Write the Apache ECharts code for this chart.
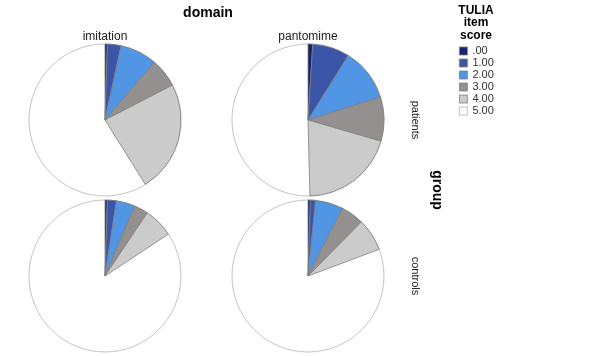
<!DOCTYPE html>
<html>
<head>
<meta charset="utf-8">
<script src="https://cdn.jsdelivr.net/npm/echarts@6/dist/echarts.min.js"></script>
<style>
html,body{margin:0;padding:0;background:#fff;}
#chart{width:605px;height:356px;}
</style>
</head>
<body>
<div id="chart"></div>
<script>
const categories = ['.00', '1.00', '2.00', '3.00', '4.00', '5.00'];
const imitationPatients = [0.5, 2.9, 7.9, 6.1, 23.7, 58.9];
const pantomimePatients = [1.0, 7.9, 11.2, 9.4, 20.1, 50.4];
const imitationControls = [0.5, 1.9, 4.0, 3.0, 6.3, 84.3];
const pantomimeControls = [0.5, 1.1, 5.9, 4.9, 6.9, 80.7];
const domains = ['imitation', 'pantomime'];
const groups = ['patients', 'controls'];

const colors = ['#14246e', '#3b56a9', '#5096e4', '#949090', '#cbcbcb', '#ffffff'];
const FONT = 'Liberation Sans, Arial, sans-serif';
const R = 76;
const cx = [105, 308];
const cy = [120, 276];

const panels = [
  { vals: imitationPatients, c: [cx[0], cy[0]] },
  { vals: pantomimePatients, c: [cx[1], cy[0]] },
  { vals: imitationControls, c: [cx[0], cy[1]] },
  { vals: pantomimeControls, c: [cx[1], cy[1]] }
];

const series = [];
panels.forEach(p => {
  // background outline circle
  series.push({
    type: 'pie', center: p.c, radius: [0, R], silent: true, animation: false,
    label: { show: false }, labelLine: { show: false },
    itemStyle: { color: '#ffffff', borderColor: '#c4c4c4', borderWidth: 1 },
    data: [{ name: 'bg', value: 1 }], legendHoverLink: false
  });
  series.push({
    type: 'pie', center: p.c, radius: [0, R], startAngle: 90, clockwise: true,
    silent: true, animation: false, avoidLabelOverlap: false,
    label: { show: false }, labelLine: { show: false },
    data: categories.map((n, i) => ({
      name: n, value: p.vals[i],
      itemStyle: i === 5
        ? { color: 'rgba(255,255,255,0)', borderWidth: 0 }
        : { color: colors[i], borderColor: '#7f7f7f', borderWidth: 0.8 }
    }))
  });
});

const graphic = [
  { type: 'text', x: 208, y: 13, style: { text: 'domain', font: 'bold 14px ' + FONT, fill: '#000', align: 'center', verticalAlign: 'middle' } },
  { type: 'text', x: cx[0], y: 37, style: { text: domains[0], font: '12px ' + FONT, fill: '#222', align: 'center', verticalAlign: 'middle' } },
  { type: 'text', x: cx[1], y: 37, style: { text: domains[1], font: '12px ' + FONT, fill: '#222', align: 'center', verticalAlign: 'middle' } },
  { type: 'text', x: 415, y: cy[0], rotation: -Math.PI / 2, style: { text: groups[0], font: '11px ' + FONT, fill: '#222', align: 'center', verticalAlign: 'middle' } },
  { type: 'text', x: 415, y: cy[1], rotation: -Math.PI / 2, style: { text: groups[1], font: '11px ' + FONT, fill: '#222', align: 'center', verticalAlign: 'middle' } },
  { type: 'text', x: 437, y: 190, rotation: -Math.PI / 2, style: { text: 'group', font: 'bold 14px ' + FONT, fill: '#000', align: 'center', verticalAlign: 'middle' } },
  { type: 'text', x: 476, y: 4, style: { text: 'TULIA\nitem\nscore', font: 'bold 12px ' + FONT, lineHeight: 12.5, fill: '#000', align: 'center', verticalAlign: 'top' } }
];

const chart = echarts.init(document.getElementById('chart'), null, { renderer: 'canvas' });
chart.setOption({
  backgroundColor: '#ffffff',
  animation: false,
  color: colors,
  legend: {
    orient: 'vertical', left: 459, top: 45, padding: 0,
    icon: 'rect', itemWidth: 8, itemHeight: 8, itemGap: 0, selectedMode: false,
    textStyle: { fontSize: 11, fontFamily: FONT, color: '#333', lineHeight: 12 },
    data: categories.map((n, i) => ({
      name: n,
      itemStyle: { color: colors[i], borderColor: i === 5 ? '#b0b0b0' : '#7f7f7f', borderWidth: 0.8 }
    }))
  },
  graphic: graphic,
  series: series
});
</script>
</body>
</html>
